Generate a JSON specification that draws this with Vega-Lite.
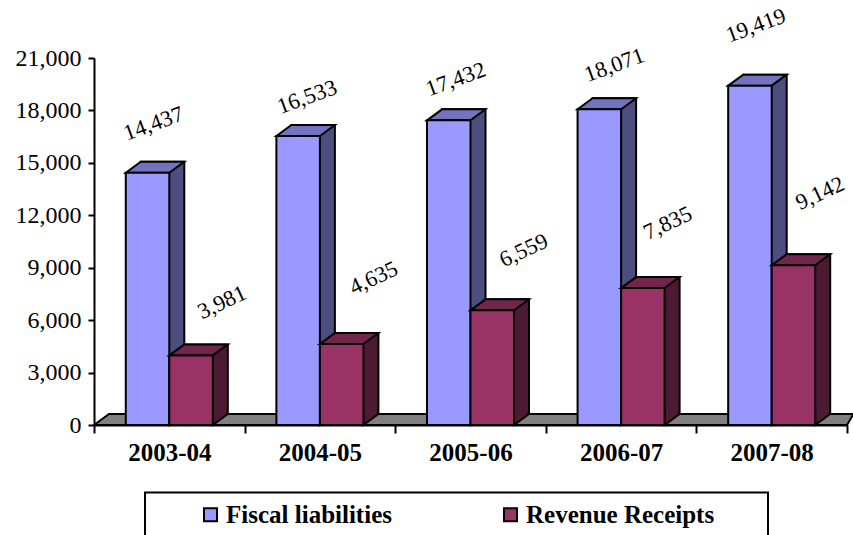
{
"$schema":"https://vega.github.io/schema/vega-lite/v6.json",
"width":753,"height":367,
"autosize":"none",
"padding":{"left":94,"top":58,"right":6,"bottom":110},
"background":"white",
"config":{"view":{"stroke":null},"font":"Liberation Serif"},
"layer":[
{"data":{"values":[{"period":"2005-06"}]},
 "encoding":{"x":{"field":"period","type":"nominal","scale":{"paddingInner":0,"paddingOuter":0},
   "axis":{"title":null,"labelAngle":0,"labelAlign":"center","labelBaseline":"top","tickBand":"extent","zindex":1,"domainColor":"black","domainWidth":2,"tickColor":"black","tickWidth":2,"tickSize":8,
     "labelFont":"Liberation Serif","labelFontWeight":"bold","labelFontSize":25,"labelColor":"black","labelPadding":7}},
   "y":{"datum":0,"type":"quantitative","scale":{"domain":[0,21000],"nice":false},
   "axis":{"title":null,"values":[0,3000,6000,9000,12000,15000,18000,21000],"labelExpr":"format(datum.value,',')","grid":false,"zindex":1,"domainColor":"black","domainWidth":2,"tickColor":"black","tickWidth":2,"tickSize":6,
     "labelFont":"Liberation Serif","labelFontSize":24,"labelColor":"black","labelPadding":7}}},
 "layer":[
  {"mark":{"type":"point","filled":true,"size":4,"opacity":1,"fill":"#808080","stroke":"black","strokeWidth":2,
    "shape":"M-376.5,0L-361.5,-11L383,-11L376.5,0Z"}},
  {"mark":{"type":"point","filled":false,"size":4,"opacity":1,"stroke":"black","strokeWidth":2,
    "shape":"M-325.5,67.5L297.5,67.5L297.5,130L-325.5,130Z"}}
 ]},
{"data":{"values":[
{"period":"2003-04","series":"Fiscal liabilities","value":14437},
{"period":"2004-05","series":"Fiscal liabilities","value":16533},
{"period":"2005-06","series":"Fiscal liabilities","value":17432},
{"period":"2006-07","series":"Fiscal liabilities","value":18071},
{"period":"2007-08","series":"Fiscal liabilities","value":19419},
{"period":"2003-04","series":"Revenue Receipts","value":3981},
{"period":"2004-05","series":"Revenue Receipts","value":4635},
{"period":"2005-06","series":"Revenue Receipts","value":6559},
{"period":"2006-07","series":"Revenue Receipts","value":7835},
{"period":"2007-08","series":"Revenue Receipts","value":9142}
]},
"encoding":{
 "x":{"field":"period","type":"nominal","scale":{"paddingInner":0,"paddingOuter":0},
   "axis":{"title":null,"labelAngle":0,"labelAlign":"center","labelBaseline":"top","tickBand":"extent","zindex":1,"domainColor":"black","domainWidth":2,"tickColor":"black","tickWidth":2,"tickSize":8,
     "labelFont":"Liberation Serif","labelFontWeight":"bold","labelFontSize":25,"labelColor":"black","labelPadding":7}},
 "xOffset":{"field":"series","type":"nominal","scale":{"domain":["Fiscal liabilities","Revenue Receipts"],"paddingInner":0,"paddingOuter":0.73}},
 "y":{"field":"value","type":"quantitative","scale":{"domain":[0,21000],"nice":false},
   "axis":{"title":null,"values":[0,3000,6000,9000,12000,15000,18000,21000],"labelExpr":"format(datum.value,',')","grid":false,"zindex":1,"domainColor":"black","domainWidth":2,"tickColor":"black","tickWidth":2,"tickSize":6,
     "labelFont":"Liberation Serif","labelFontSize":24,"labelColor":"black","labelPadding":7}}
},
"layer":[
 {"transform":[{"filter":"datum.series==='Fiscal liabilities'"}],
  "layer":[
   {"encoding":{"xOffset":null},"mark":{"type":"bar","width":43.5,"xOffset":-6.75,"yOffset":-11,"fill":"#4D4D80","stroke":"black","strokeWidth":2}},
   {"encoding":{"y":{"datum":0,"type":"quantitative","scale":{"domain":[0,21000],"nice":false},
   "axis":{"title":null,"values":[0,3000,6000,9000,12000,15000,18000,21000],"labelExpr":"format(datum.value,',')","grid":false,"zindex":1,"domainColor":"black","domainWidth":2,"tickColor":"black","tickWidth":2,"tickSize":6,
     "labelFont":"Liberation Serif","labelFontSize":24,"labelColor":"black","labelPadding":7}}},"mark":{"type":"point","filled":true,"size":4,"opacity":1,"fill":"#4D4D80","stroke":"black","strokeWidth":2,"shape":"M21.75,-13L21.75,0L36.75,-11L35.75,-13"}},
   {"mark":{"type":"point","filled":true,"size":4,"opacity":1,"fill":"#7373BF","stroke":"black","strokeWidth":2,"shape":"M-21.75,0L-6.75,-11L36.75,-11L21.75,0Z"}}
  ]},
 {"mark":{"type":"bar","stroke":"black","strokeWidth":2},
  "transform":[{"filter":"datum.series==='Fiscal liabilities'"}],
  "encoding":{"color":{"field":"series","type":"nominal","scale":{"domain":["Fiscal liabilities","Revenue Receipts"],"range":["#9999FF","#993366"]},
    "legend":{"title":null,"orient":"none","legendX":104,"legendY":444,"direction":"horizontal","columns":2,"symbolType":"square","symbolSize":170,"symbolStrokeColor":"black","symbolStrokeWidth":2,"symbolOpacity":1,"labelFont":"Liberation Serif","labelFontWeight":"bold","labelFontSize":25,"labelColor":"black","labelLimit":300,"labelOffset":3,"columnPadding":106,"padding":0}}}},
 {"transform":[{"filter":"datum.series==='Revenue Receipts'"}],
  "layer":[
   {"encoding":{"xOffset":null},"mark":{"type":"bar","width":43.5,"xOffset":36.75,"yOffset":-11,"fill":"#4D1A33","stroke":"black","strokeWidth":2}},
   {"encoding":{"y":{"datum":0,"type":"quantitative","scale":{"domain":[0,21000],"nice":false},
   "axis":{"title":null,"values":[0,3000,6000,9000,12000,15000,18000,21000],"labelExpr":"format(datum.value,',')","grid":false,"zindex":1,"domainColor":"black","domainWidth":2,"tickColor":"black","tickWidth":2,"tickSize":6,
     "labelFont":"Liberation Serif","labelFontSize":24,"labelColor":"black","labelPadding":7}}},"mark":{"type":"point","filled":true,"size":4,"opacity":1,"fill":"#4D1A33","stroke":"black","strokeWidth":2,"shape":"M21.75,-13L21.75,0L36.75,-11L35.75,-13"}},
   {"mark":{"type":"point","filled":true,"size":4,"opacity":1,"fill":"#73264C","stroke":"black","strokeWidth":2,"shape":"M-21.75,0L-6.75,-11L36.75,-11L21.75,0Z"}}
  ]},
 {"mark":{"type":"bar","stroke":"black","strokeWidth":2},
  "transform":[{"filter":"datum.series==='Revenue Receipts'"}],
  "encoding":{"color":{"field":"series","type":"nominal"}}},
 {"transform":[{"filter":"datum.series==='Fiscal liabilities' && datum.period==='2003-04'"}],
  "mark":{"type":"text","angle":-20,"align":"center","dx":22.4,"dy":-44,"font":"Liberation Serif","fontSize":22.5,"fill":"black"},
  "encoding":{"text":{"field":"value","type":"quantitative","format":","}}},
 {"transform":[{"filter":"datum.series==='Fiscal liabilities' && datum.period==='2004-05'"}],
  "mark":{"type":"text","angle":-20,"align":"center","dx":21.8,"dy":-33.6,"font":"Liberation Serif","fontSize":22.5,"fill":"black"},
  "encoding":{"text":{"field":"value","type":"quantitative","format":","}}},
 {"transform":[{"filter":"datum.series==='Fiscal liabilities' && datum.period==='2005-06'"}],
  "mark":{"type":"text","angle":-20,"align":"center","dx":20.6,"dy":-36.1,"font":"Liberation Serif","fontSize":22.5,"fill":"black"},
  "encoding":{"text":{"field":"value","type":"quantitative","format":","}}},
 {"transform":[{"filter":"datum.series==='Fiscal liabilities' && datum.period==='2006-07'"}],
  "mark":{"type":"text","angle":-20,"align":"center","dx":29.1,"dy":-36.3,"font":"Liberation Serif","fontSize":22.5,"fill":"black"},
  "encoding":{"text":{"field":"value","type":"quantitative","format":","}}},
 {"transform":[{"filter":"datum.series==='Fiscal liabilities' && datum.period==='2007-08'"}],
  "mark":{"type":"text","angle":-20,"align":"center","dx":26.1,"dy":-54.4,"font":"Liberation Serif","fontSize":22.5,"fill":"black"},
  "encoding":{"text":{"field":"value","type":"quantitative","format":","}}},
 {"transform":[{"filter":"datum.series==='Revenue Receipts' && datum.period==='2003-04'"}],
  "mark":{"type":"text","angle":-25,"align":"center","dx":50.5,"dy":-34.9,"font":"Liberation Serif","fontSize":22.5,"fill":"black"},
  "encoding":{"text":{"field":"value","type":"quantitative","format":","}}},
 {"transform":[{"filter":"datum.series==='Revenue Receipts' && datum.period==='2004-05'"}],
  "mark":{"type":"text","angle":-25,"align":"center","dx":56.9,"dy":-46.3,"font":"Liberation Serif","fontSize":22.5,"fill":"black"},
  "encoding":{"text":{"field":"value","type":"quantitative","format":","}}},
 {"transform":[{"filter":"datum.series==='Revenue Receipts' && datum.period==='2005-06'"}],
  "mark":{"type":"text","angle":-25,"align":"center","dx":53.9,"dy":-41.1,"font":"Liberation Serif","fontSize":22.5,"fill":"black"},
  "encoding":{"text":{"field":"value","type":"quantitative","format":","}}},
 {"transform":[{"filter":"datum.series==='Revenue Receipts' && datum.period==='2006-07'"}],
  "mark":{"type":"text","angle":-25,"align":"center","dx":50.1,"dy":-48.3,"font":"Liberation Serif","fontSize":22.5,"fill":"black"},
  "encoding":{"text":{"field":"value","type":"quantitative","format":","}}},
 {"transform":[{"filter":"datum.series==='Revenue Receipts' && datum.period==='2007-08'"}],
  "mark":{"type":"text","angle":-25,"align":"center","dx":54.4,"dy":-54,"font":"Liberation Serif","fontSize":22.5,"fill":"black"},
  "encoding":{"text":{"field":"value","type":"quantitative","format":","}}}
]}
]}
